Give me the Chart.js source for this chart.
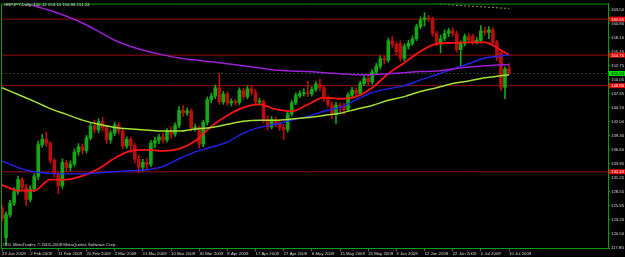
<!DOCTYPE html>
<html lang="en">
<head>
<meta charset="UTF-8">
<title>GBPJPY, Daily</title>
<script src="https://cdn.jsdelivr.net/npm/chart.js"></script>
<style>
    body {
        margin: 0;
        background: #000;
    }

    .chart-container {
        width: 625px;
        height: 257px;
    }
</style>
</head>
<body>
<div class="chart-container">
    <canvas id="priceChart"></canvas>
</div>

<script>
    // daily candles, bar 0 = 23 Jan 2009
    const opens = [125.4, 119.8, 124.2, 126.4, 128.6, 130.9, 129.4, 127.1, 129.1, 131.5,
        137.6, 138.6, 137.9, 134.6, 132.0, 129.7, 134.2, 133.2, 133.9, 136.2,
        137.2, 136.5, 138.9, 141.2, 140.4, 142.0, 140.8, 138.5, 139.8, 141.4,
        140.2, 137.3, 138.6, 137.4, 134.8, 133.3, 134.2, 133.8, 137.9, 138.4,
        139.1, 138.5, 140.2, 139.6, 141.3, 144.2, 143.7, 144.1, 140.8, 140.9,
        137.7, 141.9, 146.2, 146.9, 148.5, 145.8, 147.3, 145.6, 145.9, 145.7,
        148.0, 146.8, 148.3, 147.6, 145.8, 145.9, 142.3, 141.0, 142.4, 141.6,
        140.9, 140.5, 143.5, 145.6, 147.0, 147.4, 147.6, 147.3, 148.2, 149.2,
        148.5, 146.4, 145.3, 143.4, 145.2, 145.0, 144.3, 147.1, 148.0, 147.4,
        149.3, 150.3, 149.6, 151.5, 152.6, 154.1, 153.8, 157.5, 156.8, 156.9,
        154.1, 156.4, 157.0, 157.9, 160.2, 161.5, 161.9, 161.7, 158.9, 157.0,
        157.9, 158.9, 159.4, 158.9, 155.8, 157.0, 158.3, 158.3, 157.2, 157.6,
        159.4, 159.1, 159.6, 157.2, 155.2, 148.6, 152.12];
    const highs = [126.0, 124.7, 127.0, 129.4, 131.6, 131.3, 130.0, 129.7, 132.0, 138.3,
        139.6, 140.0, 138.2, 135.0, 132.4, 134.9, 134.6, 134.5, 136.8, 137.8,
        137.7, 139.4, 141.8, 142.3, 142.6, 142.8, 141.3, 140.3, 141.9, 141.8,
        140.6, 139.1, 139.0, 137.8, 135.6, 134.8, 135.0, 138.4, 139.0, 139.6,
        139.8, 140.7, 141.0, 141.8, 144.9, 145.1, 144.6, 144.4, 141.5, 141.2,
        142.3, 146.7, 147.5, 149.0, 151.2, 147.8, 147.7, 146.4, 146.3, 148.5,
        148.4, 148.8, 149.0, 148.2, 146.5, 146.2, 143.1, 143.0, 142.9, 142.2,
        141.5, 144.0, 146.1, 147.5, 147.9, 148.3, 149.8, 148.7, 149.7, 150.1,
        149.0, 147.0, 145.8, 145.7, 145.6, 145.5, 147.6, 148.6, 148.5, 149.8,
        150.9, 150.9, 152.0, 153.2, 154.6, 154.5, 158.0, 158.3, 157.3, 157.5,
        156.9, 157.6, 158.4, 160.7, 162.1, 162.9, 162.4, 162.0, 159.3, 158.6,
        159.6, 159.9, 160.0, 159.4, 157.5, 158.8, 158.9, 158.8, 158.1, 160.4,
        160.1, 160.2, 160.0, 157.6, 155.6, 152.5, 153.14];
    const lows = [122.9, 118.4, 123.7, 125.9, 128.1, 128.8, 126.0, 126.7, 128.6, 130.9,
        137.1, 137.3, 134.0, 131.4, 128.2, 129.2, 132.4, 132.6, 133.5, 135.6,
        135.8, 136.0, 138.5, 139.8, 139.9, 140.2, 137.8, 137.9, 139.3, 139.6,
        136.8, 136.9, 136.1, 134.1, 132.2, 132.5, 132.9, 133.4, 137.0, 137.8,
        137.9, 138.1, 138.8, 139.2, 140.8, 143.0, 143.2, 140.3, 140.2, 136.9,
        137.2, 141.4, 145.6, 146.4, 145.3, 145.3, 145.1, 145.0, 145.2, 145.3,
        146.3, 146.4, 147.1, 145.3, 145.2, 141.8, 140.4, 140.6, 141.0, 140.3,
        138.6, 140.0, 143.1, 145.2, 146.6, 146.9, 146.8, 146.9, 147.8, 147.9,
        145.9, 144.8, 142.6, 141.6, 143.9, 143.4, 144.0, 146.6, 146.8, 147.0,
        148.9, 149.0, 149.2, 151.0, 152.1, 153.0, 153.4, 156.3, 154.8, 153.6,
        153.7, 155.9, 156.6, 157.5, 159.8, 160.3, 161.2, 158.4, 156.5, 155.2,
        157.5, 158.3, 158.4, 155.3, 152.6, 156.5, 157.2, 156.8, 156.9, 157.1,
        158.6, 157.9, 156.6, 153.7, 148.0, 146.4, 150.96];
    const closes = [123.4, 124.2, 126.4, 128.6, 130.9, 129.4, 127.1, 129.1, 131.5, 137.6,
        138.6, 137.9, 134.6, 132.0, 129.7, 134.2, 133.2, 133.9, 136.2, 137.2,
        136.5, 138.9, 141.2, 140.4, 142.0, 140.8, 138.5, 139.8, 141.4, 140.2,
        137.3, 138.6, 137.4, 134.8, 133.3, 134.2, 133.8, 137.9, 138.4, 139.1,
        138.5, 140.2, 139.6, 141.3, 144.2, 143.7, 144.1, 140.8, 140.9, 137.7,
        141.9, 146.2, 146.9, 148.5, 145.8, 147.3, 145.6, 145.9, 145.7, 148.0,
        146.8, 148.3, 147.6, 145.8, 145.9, 142.3, 141.0, 142.4, 141.6, 140.9,
        140.5, 143.5, 145.6, 147.0, 147.4, 147.6, 147.3, 148.2, 149.2, 148.5,
        146.4, 145.3, 143.4, 145.2, 145.0, 144.3, 147.1, 148.0, 147.4, 149.3,
        150.3, 149.6, 151.5, 152.6, 154.1, 153.8, 157.5, 156.8, 155.4, 154.1,
        156.4, 157.0, 157.9, 160.2, 161.5, 161.9, 161.7, 158.9, 157.0, 157.9,
        158.9, 159.4, 158.9, 155.8, 157.0, 158.3, 157.6, 157.2, 157.6, 159.4,
        159.1, 159.6, 157.2, 154.2, 148.6, 152.1, 151.24];

    // one date label every 7 bars
    const dateLabels = ["23 Jan 2009", "2 Feb 2009", "11 Feb 2009", "20 Feb 2009", "2 Mar 2009",
        "11 Mar 2009", "20 Mar 2009", "30 Mar 2009", "8 Apr 2009", "17 Apr 2009", "27 Apr 2009",
        "6 May 2009", "15 May 2009", "25 May 2009", "3 Jun 2009", "12 Jun 2009", "22 Jun 2009",
        "1 Jul 2009", "10 Jul 2009"];
    const labelStep = 7;

    // moving averages (bar index -> price)
    const maIdx = [0, 4, 8, 12, 16, 20, 24, 28, 32, 36, 40, 44, 48, 52, 56, 60, 64, 68, 72, 76,
        80, 84, 88, 92, 96, 100, 104, 108, 112, 116, 120, 124, 126];
    const maRed = [129.9, 128.8, 128.8, 130.9, 130.9, 131.6, 133.0, 135.0, 136.4, 136.6,
        136.4, 136.8, 138.3, 141.1, 143.2, 144.7, 145.3, 144.4, 144.0, 145.3,
        146.6, 146.4, 146.8, 148.5, 151.2, 153.3, 155.5, 156.9, 157.1, 157.2,
        157.2, 155.7, 154.8];
    const maBlue = [134.5, 133.2, 132.4, 132.1, 132.0, 132.0, 132.2, 132.4, 132.6, 132.8,
        133.4, 134.9, 136.2, 137.1, 138.1, 139.8, 140.9, 141.5, 142.3, 143.0,
        144.0, 144.7, 146.2, 147.6, 148.3, 148.9, 150.0, 151.0, 152.1, 153.1,
        154.2, 154.6, 154.8];
    const maLime = [148.5, 147.2, 145.9, 144.5, 143.4, 142.3, 141.5, 140.9, 140.6, 140.4,
        140.2, 140.2, 140.6, 140.9, 141.5, 142.1, 142.3, 142.3, 142.5, 142.8,
        143.2, 143.6, 144.4, 145.1, 146.1, 146.8, 147.8, 148.5, 149.3, 149.8,
        150.4, 150.8, 151.0];
    const maPurple = [167.0, 165.4, 164.2, 163.3, 162.2, 160.9, 159.3, 157.6, 156.4, 155.5,
        154.8, 154.2, 153.8, 153.5, 153.1, 152.7, 152.3, 151.9, 151.7, 151.6,
        151.4, 151.2, 151.0, 151.0, 151.2, 151.4, 151.6, 151.7, 152.1, 152.5,
        152.7, 152.9, 152.9];
    const dotIdx = [104, 106, 108, 110, 112, 114, 116, 118, 120, 122, 124, 126];
    const maDotted = [165.3, 164.9, 164.67, 164.52, 164.37, 164.24, 164.14, 164.06, 163.99, 163.87, 163.78, 163.69];

    // horizontal levels and price scale
    const levels = [161.65, 154.75, 148.90, 132.40];
    const priceTicks = [117.80, 120.50, 123.20, 125.85, 128.55, 131.25, 133.95, 136.60, 139.30,
        142.00, 144.70, 147.35, 150.05, 152.75, 155.40, 158.10, 160.80, 163.50];

    const green = "#109c10";
    const textColor = "#d8dcd8";
    const tinyFont = "4.3px 'Liberation Sans'";
    const xMin = -0.25, xMax = 150.6;
    const last = closes.length - 1;

    let upColor = "#14a814";
    let downColor = "#b80e0e";
    let candleColors = closes.map((c, i) => c >= opens[i] ? upColor : downColor);

    function maData(idx, vals) {
        return idx.map((x, k) => ({ x: x, y: vals[k] }));
    }

    function maLine(idx, vals, color, width) {
        return {
            type: "line",
            data: maData(idx, vals),
            borderColor: color,
            borderWidth: width,
            pointRadius: 0,
            cubicInterpolationMode: "monotone",
            order: 1
        };
    }

    let datasets = [];

    levels.forEach(v => {
        datasets.push({
            type: "line",
            data: [{ x: xMin, y: v }, { x: xMax, y: v }],
            borderColor: "#9a0d0d",
            borderWidth: 1,
            pointRadius: 0,
            order: 6
        });
    });
    // bid line
    datasets.push({
        type: "line",
        data: [{ x: xMin, y: closes[last] }, { x: xMax, y: closes[last] }],
        borderColor: "#294829",
        borderWidth: 1,
        borderDash: [2, 2],
        pointRadius: 0,
        order: 6
    });

    datasets.push({
        type: "bar",
        data: closes.map((c, i) => ({ x: i, y: [lows[i], highs[i]] })),
        backgroundColor: candleColors,
        barThickness: 1,
        grouped: false,
        order: 5
    });
    datasets.push({
        type: "bar",
        data: closes.map((c, i) => ({ x: i, y: [opens[i], c] })),
        backgroundColor: candleColors,
        barThickness: 3,
        minBarLength: 1,
        grouped: false,
        order: 4
    });

    datasets.push(maLine(maIdx, maPurple, "#9b1fd6", 1.5));
    datasets.push(maLine(maIdx, maLime, "#a6e034", 1.5));
    datasets.push(maLine(maIdx, maBlue, "#2323ee", 1.4));
    datasets.push(maLine(maIdx, maRed, "#ff1414", 1.8));
    let dotted = maLine(dotIdx, maDotted, "#a89040", 1);
    dotted.borderDash = [2, 2];
    datasets.push(dotted);

    const mtDecor = {
        id: "mtDecor",
        beforeDraw(chart) {
            let c = chart.ctx;
            c.save();
            c.fillStyle = "#000";
            c.fillRect(0, 0, chart.width, chart.height);
            c.restore();
        },
        afterDraw(chart) {
            let c = chart.ctx;
            let a = chart.chartArea;
            let ys = chart.scales.y;
            c.save();
            // frame
            c.strokeStyle = green;
            c.lineWidth = 1;
            c.beginPath();
            c.moveTo(a.left + 0.5, a.bottom);
            c.lineTo(a.left + 0.5, a.top + 0.5);
            c.lineTo(a.right, a.top + 0.5);
            c.stroke();

            c.font = tinyFont;
            c.textBaseline = "middle";
            c.textAlign = "left";
            c.fillStyle = textColor;
            c.fillText("GBPJPY,Daily  " + opens[last].toFixed(2) + " " + highs[last].toFixed(2) + " " +
                lows[last].toFixed(2) + " " + closes[last].toFixed(2), 4, 5);
            c.fillText("ODL MetaTrader, \u00a9 2001-2008 MetaQuotes Software Corp.", 3, 245);

            // level boxes on price scale
            levels.forEach(v => {
                let y = ys.getPixelForValue(v);
                c.fillStyle = "#e80000";
                c.fillRect(a.right + 1, y - 2.5, 16, 5);
                c.fillStyle = "#ffffff";
                c.fillText(v.toFixed(2), a.right + 3, y + 0.2);
            });
            let yb = ys.getPixelForValue(closes[last]);
            c.fillStyle = "#00e000";
            c.fillRect(a.right + 1, yb - 2.5, 16, 5);
            c.fillStyle = "#000";
            c.fillText(closes[last].toFixed(2), a.right + 3, yb + 0.2);
            c.restore();
        }
    };

    let ctx = document.getElementById("priceChart").getContext("2d");
    let priceChart = new Chart(ctx, {
        type: "bar",
        data: { datasets: datasets },
        options: {
            responsive: true,
            maintainAspectRatio: false,
            animation: false,
            layout: { padding: { top: 1, left: 1, right: 0, bottom: 0 } },
            plugins: {
                legend: { display: false },
                tooltip: { enabled: false }
            },
            scales: {
                x: {
                    type: "linear",
                    min: xMin,
                    max: xMax,
                    offset: false,
                    grid: { display: true, drawOnChartArea: false, offset: false, color: green, tickLength: 3 },
                    border: { display: true, color: green },
                    afterBuildTicks(s) {
                        s.ticks = dateLabels.map((d, k) => ({ value: k * labelStep }));
                    },
                    afterFit(s) { s.height = 9; },
                    ticks: {
                        autoSkip: false,
                        maxRotation: 0,
                        align: "start",
                        padding: 0,
                        color: textColor,
                        font: { family: "Liberation Sans", size: 4.3 },
                        callback: (v, i) => dateLabels[i]
                    }
                },
                y: {
                    position: "right",
                    min: 117.80,
                    max: 164.63,
                    grid: { display: true, drawOnChartArea: false, color: green, tickLength: 2 },
                    border: { display: true, color: green },
                    afterBuildTicks(s) {
                        s.ticks = priceTicks.map(v => ({ value: v }));
                    },
                    afterFit(s) { s.width = 17; },
                    ticks: {
                        autoSkip: false,
                        padding: 1,
                        color: textColor,
                        font: { family: "Liberation Sans", size: 4.3 },
                        callback: v => v.toFixed(2)
                    }
                }
            }
        },
        plugins: [mtDecor]
    });
</script>
</body>
</html>
